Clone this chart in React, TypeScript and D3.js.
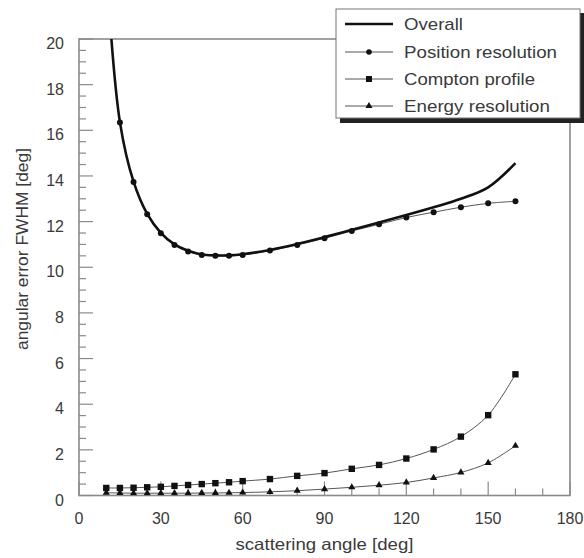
import React from "react";
import * as d3 from "d3";

const angles = [10, 15, 20, 25, 30, 35, 40, 45, 50, 55, 60, 70, 80, 90, 100, 110, 120, 130, 140, 150, 160];
const overall = [23.2, 16.36, 13.75, 12.34, 11.51, 11.0, 10.72, 10.56, 10.52, 10.52, 10.57, 10.76, 11.02, 11.32, 11.64, 11.96, 12.29, 12.63, 13.0, 13.5, 14.56];
const position = [23.1, 16.34, 13.73, 12.32, 11.49, 10.98, 10.69, 10.54, 10.5, 10.5, 10.54, 10.73, 10.98, 11.27, 11.59, 11.88, 12.18, 12.41, 12.63, 12.8, 12.89];
const compton = [0.33, 0.33, 0.34, 0.36, 0.38, 0.42, 0.46, 0.5, 0.54, 0.58, 0.63, 0.72, 0.86, 0.98, 1.17, 1.34, 1.62, 2.02, 2.58, 3.52, 5.31];
const energy = [0.12, 0.11, 0.1, 0.1, 0.1, 0.1, 0.1, 0.11, 0.11, 0.12, 0.13, 0.16, 0.21, 0.28, 0.36, 0.45, 0.57, 0.77, 1.01, 1.43, 2.18];
const xTicks = [0, 30, 60, 90, 120, 150, 180];
const yTicks = [0, 2, 4, 6, 8, 10, 12, 14, 16, 18, 20];
const legendLabels = ["Overall", "Position resolution", "Compton profile", "Energy resolution"];
const legendWidths = [59, 153, 131, 146];

const W = 584, H = 558;
const L = 79, R = 570, T = 39, B = 495.5;
const FONT = "'Liberation Sans', Arial, sans-serif";
const TXT = "#3a3a3a";

export default function App() {
  const x = d3.scaleLinear().domain([0, 180]).range([L, R]);
  const y = d3.scaleLinear().domain([0, 20]).range([B, T]);
  const line = d3.line<number>().x((_, i) => x(angles[i])).y((v) => y(v)).curve(d3.curveCatmullRom.alpha(0.5));
  const xMinor = d3.range(0, 181, 10);
  const yMinor = d3.range(0, 20.01, 0.5);
  const tri = d3.symbol().type(d3.symbolTriangle).size(22)() as string;

  const visible = (v: number) => v <= 20;

  return (
    <svg width={W} height={H} style={{ position: "absolute", left: 0, top: 0, background: "#fff" }} fontFamily={FONT}>
      <defs>
        <clipPath id="plot">
          <rect x={L} y={T} width={R - L} height={B - T} />
        </clipPath>
      </defs>
      <rect x={L} y={T} width={R - L} height={B - T} fill="none" stroke="#8a8a8a" strokeWidth={1.6} />
      {xMinor.map((t) => (
        <line key={"xt" + t} x1={x(t)} x2={x(t)} y1={B} y2={B - (t % 30 === 0 ? 14 : 7)} stroke="#8a8a8a" strokeWidth={1.2} />
      ))}
      {yMinor.map((t) => (
        <line key={"yt" + t} x1={L} x2={L + (Math.abs(t % 2) < 1e-6 ? 14 : 7)} y1={y(t)} y2={y(t)} stroke="#8a8a8a" strokeWidth={1.2} />
      ))}
      {xTicks.map((t) => (
        <text key={"xl" + t} x={x(t)} y={524} textAnchor="middle" fontSize={16} fill={TXT}>{t}</text>
      ))}
      {yTicks.map((t) => (
        <text key={"yl" + t} x={64} y={y(t) + 10} textAnchor="end" fontSize={16} fill={TXT}>{t}</text>
      ))}
      <text x={(L + R) / 2} y={550} textAnchor="middle" fontSize={16.5} fill={TXT} textLength={178} lengthAdjust="spacingAndGlyphs">scattering angle [deg]</text>
      <text transform={`translate(28,249) rotate(-90)`} textAnchor="middle" fontSize={16.5} fill={TXT} textLength={202} lengthAdjust="spacingAndGlyphs">angular error FWHM [deg]</text>

      <g clipPath="url(#plot)">
        <path d={line(energy) || ""} fill="none" stroke="#555" strokeWidth={1} />
        <path d={line(compton) || ""} fill="none" stroke="#555" strokeWidth={1} />
        <path d={line(position) || ""} fill="none" stroke="#555" strokeWidth={1} />
        <path d={line(overall) || ""} fill="none" stroke="#111" strokeWidth={2.6} />
        {energy.map((v, i) => (
          <path key={"e" + i} d={tri} transform={`translate(${x(angles[i])},${y(v)})`} fill="#111" />
        ))}
        {compton.map((v, i) => (
          <rect key={"c" + i} x={x(angles[i]) - 3.2} y={y(v) - 3.2} width={6.4} height={6.4} fill="#111" />
        ))}
        {position.map((v, i) => visible(v) ? (
          <circle key={"p" + i} cx={x(angles[i])} cy={y(v)} r={3} fill="#111" />
        ) : null)}
      </g>

      <rect x={340} y={13} width={245} height={110} fill="#222" />
      <rect x={336} y={9} width={244} height={109} fill="#fff" stroke="#777" strokeWidth={1} />
      {legendLabels.map((lab, i) => {
        const ly = [24, 52, 79, 106][i];
        return (
          <g key={lab}>
            <line x1={345} x2={393} y1={ly} y2={ly} stroke={i === 0 ? "#111" : "#555"} strokeWidth={i === 0 ? 2.6 : 1} />
            {i === 1 && <circle cx={369} cy={ly} r={2.8} fill="#111" />}
            {i === 2 && <rect x={366} y={ly - 3} width={6} height={6} fill="#111" />}
            {i === 3 && <path d={tri} transform={`translate(369,${ly})`} fill="#111" />}
            <text x={404} y={ly + 6} fontSize={17} fill={TXT} textLength={legendWidths[i]} lengthAdjust="spacingAndGlyphs">{lab}</text>
          </g>
        );
      })}
    </svg>
  );
}
